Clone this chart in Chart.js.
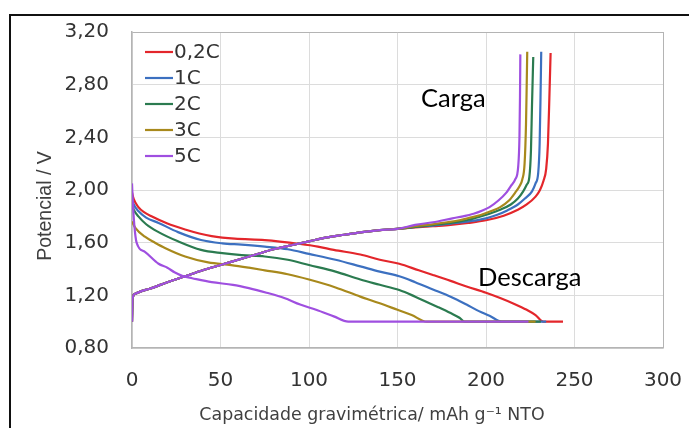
<!DOCTYPE html>
<html>
<head>
<meta charset="utf-8">
<script src="https://cdn.jsdelivr.net/npm/chart.js@4.4.1/dist/chart.umd.min.js"></script>
<style>
  body { margin: 0; background: #fff; }
  canvas { display: block; }
</style>
</head>
<body>
<canvas id="grafico" width="689" height="428"></canvas>
<script>
// taxas (legenda)
const taxas = ['0,2C', '1C', '2C', '3C', '5C'];

// eixos
const xTicks = [0, 50, 100, 150, 200, 250, 300];
const yTicks = [0.8, 1.2, 1.6, 2.0, 2.4, 2.8, 3.2];

// descarga: [capacidade, potencial]
const descarga02C = [[0,1.98],[1,1.93],[3.6,1.87],[7,1.83],[11,1.80],[20,1.745],[30,1.70],[38,1.67],[45,1.65],[58,1.63],[75,1.62],[95,1.59],[105,1.57],[114,1.545],[129,1.51],[140,1.47],[151,1.44],[162,1.39],[170,1.355],[180,1.31],[189,1.267],[200,1.22],[208,1.18],[216,1.135],[223,1.09],[228,1.05],[232.4,1.0],[243.5,1.0]];
const descarga1C = [[0,1.93],[1,1.89],[3.6,1.84],[8,1.79],[15,1.75],[26,1.68],[39,1.62],[51,1.595],[62,1.585],[75,1.57],[88,1.55],[100,1.515],[115,1.47],[129,1.42],[140,1.38],[151,1.345],[160,1.30],[170,1.245],[180,1.19],[189,1.13],[196,1.08],[202,1.045],[209,1.0],[234,1.0]];
const descarga2C = [[0,1.89],[1,1.85],[3.6,1.80],[8,1.74],[15,1.68],[26,1.61],[39,1.545],[51,1.52],[62,1.505],[75,1.495],[88,1.47],[100,1.43],[115,1.38],[129,1.32],[140,1.28],[151,1.24],[160,1.19],[166.5,1.15],[173,1.11],[180,1.065],[185,1.03],[188,1.0],[231,1.0]];
const descarga3C = [[0,1.76],[2,1.71],[7.3,1.645],[13,1.60],[18.6,1.56],[30,1.495],[43,1.45],[56,1.43],[66,1.41],[75,1.39],[88,1.36],[100,1.32],[115,1.26],[129,1.19],[140,1.14],[150,1.09],[158,1.05],[166.5,1.0],[228,1.0]];
const descarga5C = [[0,2.05],[0.5,1.90],[1.3,1.735],[2.6,1.60],[7.3,1.53],[15,1.44],[20,1.41],[24,1.375],[29,1.345],[34,1.33],[45,1.30],[57,1.28],[66,1.255],[76,1.22],[86,1.18],[95,1.13],[104,1.09],[114,1.04],[122.2,1.0],[224,1.0]];

// carga: trecho inicial comum a todas as taxas
const cargaInicio = [[0,1.00],[0.3,1.17],[1.5,1.21],[5,1.23],[10,1.25],[20,1.30],[30,1.345],[40,1.39],[50,1.43],[60,1.47],[70,1.51],[80,1.55],[90,1.58],[100,1.61],[110,1.64],[120,1.66],[130,1.68],[140,1.695],[150,1.705]];
const cargaFim02C = [[160,1.715],[170,1.725],[180,1.735],[190,1.75],[200,1.77],[210,1.805],[218,1.85],[223,1.89],[228,1.95],[230.5,2.0],[232.5,2.07],[234,2.16],[235,2.35],[235.8,2.7],[236.5,3.04]];
const cargaFim1C = [[160,1.72],[170,1.73],[180,1.745],[192,1.765],[200,1.785],[206,1.81],[212,1.845],[218,1.89],[222,1.935],[226,1.99],[228,2.05],[229.5,2.13],[230.3,2.35],[230.8,2.7],[231.2,3.05]];
const cargaFim2C = [[160,1.72],[170,1.735],[180,1.75],[189,1.77],[196,1.795],[202,1.82],[208,1.85],[214,1.89],[218,1.935],[221,1.99],[223,2.04],[224.5,2.10],[225.4,2.3],[226,2.65],[226.7,3.01]];
const cargaFim3C = [[160,1.725],[170,1.74],[178,1.755],[185,1.77],[191,1.79],[197,1.81],[203,1.84],[208,1.87],[213,1.92],[216.5,1.98],[219,2.03],[220.5,2.08],[221.8,2.2],[222.6,2.5],[223,2.8],[223.3,3.05]];
const cargaFim5C = [[160,1.735],[170,1.755],[181,1.785],[187,1.80],[193,1.82],[198,1.845],[202,1.87],[207,1.92],[211.5,1.98],[214,2.03],[216.5,2.08],[218.2,2.18],[218.9,2.4],[219.2,2.7],[219.4,3.03]];

const cores = ['#e3262b', '#3c70c0', '#2b7b50', '#a8891c', '#9f4fe0'];
const descargas = [descarga02C, descarga1C, descarga2C, descarga3C, descarga5C];
const cargasFim = [cargaFim02C, cargaFim1C, cargaFim2C, cargaFim3C, cargaFim5C];

const FONTE = '"DejaVu Sans", Verdana, sans-serif';

function pontos(lista) {
    return lista.map(p => ({ x: p[0], y: p[1] }));
}

// 5C por cima (o primeiro dataset fica desenhado por último)
const datasets = [];
for (let i = taxas.length - 1; i >= 0; i--) {
    const base = {
        borderColor: cores[i],
        borderWidth: 2.2,
        pointRadius: 0,
        showLine: true,
        fill: false,
        cubicInterpolationMode: 'monotone'
    };
    datasets.push(Object.assign({ label: taxas[i], data: pontos(cargaInicio.concat(cargasFim[i])) }, base));
    datasets.push(Object.assign({ label: taxas[i] + ' descarga', data: pontos(descargas[i]) }, base));
}

// moldura preta, legenda, títulos dos eixos e anotações
const extras = {
    id: 'extras',
    beforeDraw(chart) {
        const ctx = chart.ctx;
        ctx.save();
        ctx.fillStyle = '#fff';
        ctx.fillRect(0, 0, chart.width, chart.height);
        ctx.fillStyle = '#111';
        ctx.fillRect(9, 14, chart.width - 9, 2);
        ctx.fillRect(9, 14, 2, chart.height - 14);
        ctx.restore();
    },
    afterDraw(chart) {
        const ctx = chart.ctx;
        ctx.save();
        // legenda
        ctx.font = '20px ' + FONTE;
        ctx.textBaseline = 'middle';
        ctx.textAlign = 'left';
        taxas.forEach((t, i) => {
            const y = 52 + i * 26;
            ctx.strokeStyle = cores[i];
            ctx.lineWidth = 2.2;
            ctx.beginPath();
            ctx.moveTo(145, y);
            ctx.lineTo(173, y);
            ctx.stroke();
            ctx.fillStyle = '#333';
            ctx.fillText(t, 174, y + 1);
        });
        // títulos dos eixos
        ctx.fillStyle = '#404040';
        ctx.textAlign = 'center';
        ctx.textBaseline = 'alphabetic';
        ctx.font = '17.4px ' + FONTE;
        ctx.fillText('Capacidade gravimétrica/ mAh g⁻¹ NTO', 372, 420);
        ctx.font = '19.5px "Liberation Sans", Arial, sans-serif';
        ctx.translate(51, 206);
        ctx.rotate(-Math.PI / 2);
        ctx.fillText('Potencial / V', 0, 0);
        ctx.setTransform(1, 0, 0, 1, 0, 0);
        // anotações
        ctx.font = '25.5px Lato, "Open Sans", sans-serif';
        ctx.fillStyle = '#000';
        ctx.textAlign = 'left';
        ctx.fillText('Carga', 421, 107);
        ctx.fillText('Descarga', 478, 286);
        ctx.restore();
    }
};

const corGrade = '#dcdcdc';
const corBorda = '#b4b4b4';

new Chart(document.getElementById('grafico'), {
    type: 'scatter',
    data: { datasets: datasets },
    options: {
        responsive: false,
        animation: false,
        events: [],
        layout: { padding: { top: 32, right: 26, left: 0, bottom: 0 } },
        plugins: { legend: { display: false }, tooltip: { enabled: false } },
        scales: {
            x: {
                type: 'linear',
                min: xTicks[0],
                max: xTicks[xTicks.length - 1],
                afterBuildTicks: s => { s.ticks = xTicks.map(v => ({ value: v })); },
                afterFit: s => { s.height = 80; s.paddingLeft = 0; s.paddingRight = 0; },
                ticks: { font: { family: FONTE, size: 20 }, color: '#333', padding: 21, maxRotation: 0 },
                grid: { color: c => c.tick && c.tick.value === 300 ? corBorda : corGrade, drawTicks: false, lineWidth: 1 },
                border: { color: corBorda, width: 1.5 }
            },
            y: {
                type: 'linear',
                min: yTicks[0],
                max: yTicks[yTicks.length - 1],
                afterBuildTicks: s => { s.ticks = yTicks.map(v => ({ value: v })); },
                afterFit: s => { s.width = 132; s.paddingTop = 0; s.paddingBottom = 0; },
                ticks: {
                    font: { family: FONTE, size: 20 },
                    color: '#333',
                    padding: 23,
                    callback: v => v.toFixed(2).replace('.', ',')
                },
                grid: { color: c => c.tick && c.tick.value === 3.2 ? corBorda : corGrade, drawTicks: false, lineWidth: 1 },
                border: { color: corBorda, width: 1.5 }
            }
        }
    },
    plugins: [extras]
});
</script>
</body>
</html>
